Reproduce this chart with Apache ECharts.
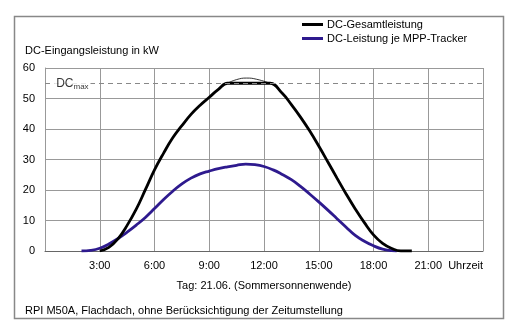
<!DOCTYPE html>
<html><head><meta charset="utf-8">
<script src="https://cdn.jsdelivr.net/npm/echarts@6/dist/echarts.min.js"></script>
<style>html,body{margin:0;padding:0;background:#fff}#c{width:506px;height:323px}</style>
</head><body><div id="c"></div>
<script>
const xTicks = [0, 3, 6, 9, 12, 15, 18, 21, 24];
const xTickLabels = ['', '3:00', '6:00', '9:00', '12:00', '15:00', '18:00', '21:00', 'Uhrzeit'];
const seriesNames = ['DC-Gesamtleistung', 'DC-Leistung je MPP-Tracker'];
const dcMax = 55;
const gesamt = [[3.0,0],[3.5,1.2],[4.0,4.0],[4.5,8.4],[5.0,13.7],[5.5,20.1],[6.0,26.6],[6.5,32.1],[7.0,37.1],[7.5,41.1],[8.0,44.8],[8.5,47.8],[9.0,50.4],[9.5,53.0],[10.0,55],[10.5,55],[11.0,55],[11.5,55],[12.0,55],[12.33,55],[13.0,51.7],[13.5,48.0],[14.0,43.9],[14.5,39.4],[15.0,34.4],[15.5,29.2],[16.0,23.9],[16.5,18.7],[17.0,13.8],[17.5,9.3],[18.0,5.3],[18.5,2.5],[19.0,0.8],[19.5,0],[20.1,0]];
const ungeregelt = [[10.0,55],[10.5,56.2],[11.05,56.7],[11.6,56.3],[12.33,55]];
const tracker = [[2.0,0],[2.5,0.2],[3.0,0.9],[3.5,2.3],[4.0,4.1],[4.5,6.2],[5.0,8.5],[5.5,11.0],[6.0,13.9],[6.5,16.9],[7.0,19.6],[7.5,22.0],[8.0,23.9],[8.5,25.3],[9.0,26.2],[9.5,27.0],[10.0,27.6],[10.5,28.1],[11.0,28.5],[11.5,28.3],[12.0,27.7],[12.5,26.6],[13.0,25.1],[13.5,23.4],[14.0,21.2],[14.5,18.7],[15.0,16.1],[15.5,13.4],[16.0,10.6],[16.5,7.8],[17.0,5.1],[17.5,3.2],[18.0,1.7],[18.5,0.6],[19.0,0.1],[19.27,0]];
const dcMaxLabelPos = [[1.5, 55]];

const chart = echarts.init(document.getElementById('c'), null, {renderer:'canvas'});
const font = 'Liberation Sans, Arial, sans-serif';
chart.setOption({
  animation:false,
  textStyle:{fontFamily:font},
  grid:{left:45, right:23, top:68, bottom:72},
  legend:{
    orient:'vertical', left:297, top:14, itemGap:3, itemWidth:21, itemHeight:3, icon:'rect',
    textStyle:{fontSize:11, color:'#000', fontFamily:font, padding:[0,0,0,-1]},
    data:seriesNames
  },
  xAxis:{
    type:'value', min:0, max:24, interval:3,
    axisLine:{show:true, lineStyle:{color:'#666', width:1}},
    axisTick:{show:false},
    splitLine:{show:true, lineStyle:{color:'#999', width:1}},
    axisLabel:{
      color:'#000', fontSize:11, margin:9, alignMaxLabel:'right', showMaxLabel:true, showMinLabel:true,
      formatter:v=>{const i=xTicks.indexOf(v);return i>=0?xTickLabels[i]:'';}
    },
    name:'Tag: 21.06. (Sommersonnenwende)', nameLocation:'middle', nameGap:29,
    nameTextStyle:{color:'#000', fontSize:11}
  },
  yAxis:{
    type:'value', min:0, max:60, interval:10,
    axisLine:{show:true, lineStyle:{color:'#999'}},
    axisTick:{show:false},
    splitLine:{show:true, lineStyle:{color:'#999', width:1}},
    axisLabel:{color:'#000', fontSize:11, margin:10},
    name:'DC-Eingangsleistung in kW', nameLocation:'end', nameGap:12,
    nameTextStyle:{color:'#000', fontSize:11, align:'left', padding:[0,0,0,-20]}
  },
  graphic:[
    {type:'rect', shape:{x:14.5, y:16.5, width:489, height:302}, style:{fill:'none', stroke:'#888', lineWidth:1.5}, z:-1},
    {type:'line', shape:{x1:483.5,y1:68,x2:483.5,y2:251}, style:{stroke:'#999', lineWidth:1}},
    {type:'line', shape:{x1:45,y1:68.5,x2:483,y2:68.5}, style:{stroke:'#999', lineWidth:1}},
    {type:'text', left:25, top:305, style:{text:'RPI M50A, Flachdach, ohne Berücksichtigung der Zeitumstellung', font:'11px '+font, fill:'#000'}}
  ],
  series:[
    {name:seriesNames[0], type:'line', data:gesamt, smooth:0.45, symbol:'none', z:4,
     lineStyle:{color:'#000', width:2.8}, itemStyle:{color:'#000'},
     markLine:{silent:true, symbol:'none', label:{show:false},
       lineStyle:{color:'#888', type:[5,4], width:1.2},
       data:[{yAxis:dcMax}]}},
    {name:'arc', type:'line', data:ungeregelt, smooth:0.5, symbol:'none', z:3,
     lineStyle:{color:'#000', width:0.8}},
    {name:seriesNames[1], type:'line', data:tracker, smooth:0.45, symbol:'none', z:3,
     lineStyle:{color:'#2E1A8E', width:2.8}, itemStyle:{color:'#2E1A8E'}},
    {name:'dcmax', type:'scatter', data:dcMaxLabelPos, symbolSize:0, z:5,
     label:{show:true, position:'inside', backgroundColor:'#fff', padding:[1,2,1,2],
       formatter:'{a|DC}{b|max}',
       rich:{a:{fontSize:12, color:'#000', fontFamily:font}, b:{fontSize:8, color:'#000', fontFamily:font, verticalAlign:'bottom', padding:[7,0,0,0]}}}}
  ]
});
</script></body></html>
